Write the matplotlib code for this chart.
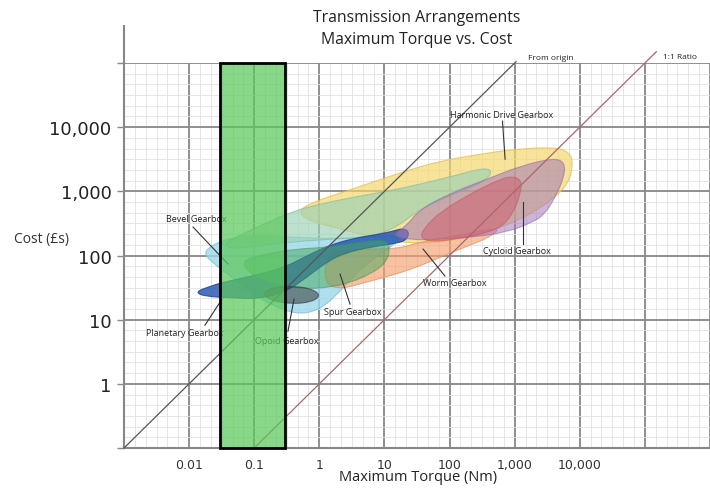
import numpy as np
import matplotlib
matplotlib.use("Agg")
import matplotlib.pyplot as plt
from matplotlib.path import Path
from matplotlib.patches import PathPatch, Rectangle
from matplotlib.ticker import FixedLocator, FixedFormatter, NullFormatter

plt.rcParams['font.family'] = ['Open Sans', 'DejaVu Sans']

# ---- axis ticks -------------------------------------------------------
x_tick_values = [1e-3, 1e-2, 1e-1, 1, 10, 100, 1e3, 1e4, 1e5, 1e6]
x_tick_labels = ['', '0.01', '0.1', '1', '10', '100', '1,000', '10,000', '', '']
y_tick_values = [1e-1, 1, 10, 100, 1e3, 1e4, 1e5]
y_tick_labels = ['', '1', '10', '100', '1,000', '10,000', '']

# ---- gearbox regions (torque in Nm, cost in GBP) ---------------------
harmonic_torque = [0.45, 0.86, 2.5, 6.7, 22, 71, 290, 950, 3900, 7100, 7900, 6600, 3900, 1900, 950, 420, 145, 35, 8.5, 2.1, 0.72]
harmonic_cost = [490, 700, 1000, 1400, 2100, 2950, 3800, 4500, 4900, 4100, 2500, 1300, 760, 470, 330, 240, 180, 150, 180, 260, 340]

bevel_torque = [0.0164, 0.032, 0.086, 0.36, 2.1, 10.2, 17.4, 14.6, 7.2, 3.5, 1.74, 0.96, 0.51, 0.25, 0.10, 0.046, 0.021]
bevel_cost = [117, 174, 208, 194, 180, 208, 194, 151, 94, 51, 22.5, 14.1, 12.2, 14.6, 24, 46, 82]

teal_torque = [0.032, 0.060, 0.12, 0.39, 1.0, 3.3, 11, 35, 113, 430, 420, 113, 35, 15.6, 6.0, 1.46, 0.36, 0.10, 0.051]
teal_cost = [145, 208, 287, 490, 630, 810, 1000, 1290, 1730, 2470, 1550, 900, 530, 277, 194, 180, 162, 140, 126]

planetary_torque = [0.0123, 0.021, 0.032, 0.086, 0.28, 0.60, 1.31, 3.3, 8.5, 14.6, 19.3, 24, 22, 15.6, 6.0, 2.5, 1.31, 0.65, 0.32, 0.12, 0.043, 0.0175]
planetary_cost = [27, 33, 38, 47, 64, 95, 140, 185, 215, 245, 265, 235, 175, 155, 135, 110, 80, 46, 28, 21, 22, 23]

worm_torque = [1.22, 1.25, 1.74, 4.2, 15.6, 35, 113, 290, 600, 420, 206, 85, 42, 21, 10.2, 4.2, 2.1]
worm_cost = [36, 82, 117, 126, 126, 162, 200, 240, 267, 194, 145, 101, 74, 57, 46, 36, 30]

spur_torque = [0.060, 0.147, 0.42, 1.46, 4.2, 11, 12.2, 10.2, 6.0, 3.0, 1.46, 0.60, 0.25, 0.10]
spur_cost = [82, 105, 126, 135, 162, 180, 117, 74, 51, 38, 32, 30, 35, 46]

cycloid_torque = [13, 21, 35, 113, 380, 1210, 3900, 5900, 5750, 4200, 2900, 1900, 760, 230, 71, 25]
cycloid_cost = [208, 277, 530, 970, 1550, 2470, 3300, 2850, 1660, 810, 440, 330, 231, 194, 180, 174]

red_torque = [35, 42, 71, 230, 600, 950, 1300, 1210, 1010, 710, 420, 130, 50]
red_cost = [194, 277, 474, 970, 1550, 1730, 1440, 900, 530, 308, 231, 180, 162]

opoid_torque = [0.136, 0.175, 0.355, 0.72, 1.06, 0.77, 0.355, 0.175]
opoid_cost = [25, 31, 33.4, 31, 24.2, 18.8, 17.5, 20.2]

# ---- highlighted torque band ----------------------------------------
band_torque = [0.03, 0.3]
band_cost = [0.1, 1e5]

# ---- reference lines -------------------------------------------------
origin_torque = [1e-3, 1.05e3]
origin_cost = [0.1, 1.05e5]
ratio_torque = [0.1, 1.5e5]
ratio_cost = [0.1, 1.5e5]

# ---- annotations -----------------------------------------------------
label_names = ['Harmonic Drive Gearbox', 'Bevel Gearbox', 'Planetary Gearbox', 'Opoid Gearbox',
               'Spur Gearbox', 'Worm Gearbox', 'Cycloid Gearbox']
label_torque = [640, 0.0128, 0.0087, 0.32, 3.3, 121, 1090]
label_cost = [15900, 383, 6.2, 4.8, 13.6, 38.5, 121]
leader_from_torque = [650, 0.0115, 0.0175, 0.33, 2.96, 85, 1345]
leader_from_cost = [12400, 277, 8.2, 6.6, 17.5, 47.8, 151]
leader_to_torque = [713, 0.0396, 0.032, 0.408, 2.08, 39.2, 1345]
leader_to_cost = [3170, 73.5, 20.9, 20.9, 51.3, 126, 679]


def blob_path(torque, cost):
    """Closed smooth outline (quadratic B-spline through edge midpoints) in log space."""
    lx = np.log10(torque)
    ly = np.log10(cost)
    mx = (lx + np.roll(lx, -1)) / 2
    my = (ly + np.roll(ly, -1)) / 2
    verts = [(mx[-1], my[-1])]
    codes = [Path.MOVETO]
    for i in range(len(lx)):
        verts += [(lx[i], ly[i]), (mx[i], my[i])]
        codes += [Path.CURVE3, Path.CURVE3]
    verts = 10 ** np.array(verts)
    return Path(verts, codes)


fig = plt.figure(figsize=(7.1, 4.89), dpi=100)
ax = fig.add_axes([124 / 710, 40 / 489, 586 / 710, 385 / 489])
ax.set_xscale('log')
ax.set_yscale('log')
ax.set_xlim(1e-3, 1e6)
ax.set_ylim(0.1, 1e5)

# ticks and grid
ax.xaxis.set_major_locator(FixedLocator(x_tick_values))
ax.xaxis.set_major_formatter(FixedFormatter(x_tick_labels))
ax.yaxis.set_major_locator(FixedLocator(y_tick_values))
ax.yaxis.set_major_formatter(FixedFormatter(y_tick_labels))
ax.xaxis.set_minor_locator(FixedLocator(10 ** np.arange(-3, 6.01, 1 / 6)))
ax.yaxis.set_minor_locator(FixedLocator(10 ** np.arange(-1, 5.01, 1 / 6)))
ax.xaxis.set_minor_formatter(NullFormatter())
ax.yaxis.set_minor_formatter(NullFormatter())
ax.grid(which='major', color='#878787', lw=1.3, zorder=0)
ax.grid(which='minor', color='#e2e2e2', lw=0.6, zorder=0)
ax.set_axisbelow(True)

ax.tick_params(axis='x', which='both', length=0, pad=7, labelsize=9, labelcolor='#333333')
ax.tick_params(axis='y', which='major', length=5, width=1, color='#878787', pad=4,
               labelsize=13, labelcolor='#222222')
ax.tick_params(axis='y', which='minor', length=0)
for lbl in ax.get_xticklabels() + ax.get_yticklabels():
    lbl.set_family('DejaVu Sans')

for side in ('top', 'right'):
    ax.spines[side].set_visible(False)
for side in ('left', 'bottom'):
    ax.spines[side].set_color('#878787')
    ax.spines[side].set_linewidth(1.5)
# left axis line continues above the grid
ax.plot([0, 0], [1, (449 - 27) / 385], transform=ax.transAxes, color='#878787',
        lw=1.5, clip_on=False, zorder=1)

# regions
regions = [
    (harmonic_torque, harmonic_cost, '#f5d76c', 0.68, '#e0bb40'),
    (bevel_torque, bevel_cost, '#9cd8ea', 0.8, '#7cc2d8'),
    (teal_torque, teal_cost, '#9ad2b4', 0.65, '#80bca0'),
    (worm_torque, worm_cost, '#f3a070', 0.65, '#e08a58'),
    (planetary_torque, planetary_cost, '#2050b0', 0.8, '#1c3f90'),
    (spur_torque, spur_cost, '#46a65c', 0.5, '#3a9050'),
    (cycloid_torque, cycloid_cost, '#a478b8', 0.55, '#9060a8'),
    (red_torque, red_cost, '#d05c6c', 0.5, '#c05060'),
    (opoid_torque, opoid_cost, '#3c4646', 0.6, '#2c3434'),
]
for k, (tq, cs, fc, al, ec) in enumerate(regions):
    patch = PathPatch(blob_path(tq, cs), facecolor=fc, alpha=al, edgecolor=ec,
                      lw=0.8, zorder=2 + k * 0.01)
    ax.add_patch(patch)

# reference lines
ax.plot(origin_torque, origin_cost, color='#555555', lw=0.9, clip_on=False, zorder=3)
ax.plot(ratio_torque, ratio_cost, color='#a8666e', lw=0.9, clip_on=False, zorder=3)
ax.text(1.6e3, 1.23e5, 'From origin', fontsize=6, ha='left', va='center', color='#222222')
ax.text(1.9e5, 1.28e5, '1:1 Ratio', fontsize=6, ha='left', va='center', color='#222222')

# labels and leader lines
for name, tx, cy, fx, fy, ex, ey in zip(label_names, label_torque, label_cost,
                                         leader_from_torque, leader_from_cost,
                                         leader_to_torque, leader_to_cost):
    ax.plot([fx, ex], [fy, ey], color='#333333', lw=0.8, zorder=3)
    ax.text(tx, cy, name, fontsize=6.5, ha='center', va='center', color='#222222', zorder=3)

# highlighted torque band
band = Rectangle((band_torque[0], band_cost[0]), band_torque[1] - band_torque[0],
                 band_cost[1] - band_cost[0], facecolor='#5cc85c', alpha=0.72,
                 edgecolor='none', zorder=4, clip_on=False)
ax.add_patch(band)
band_edge = Rectangle((band_torque[0], band_cost[0]), band_torque[1] - band_torque[0],
                      band_cost[1] - band_cost[0], facecolor='none', edgecolor='black',
                      lw=2, zorder=5, clip_on=False)
ax.add_patch(band_edge)

ax.set_xlabel('Maximum Torque (Nm)', fontsize=10.5, color='#222222', va='center')
ax.xaxis.set_label_coords(0.502, -0.075)
ax.set_ylabel('Cost (£s)', fontsize=10, rotation=0, ha='center', va='center', color='#333333')
ax.yaxis.set_label_coords(-0.1416, 0.545)

fig.text(417 / 710, 1 - 18 / 489, 'Transmission Arrangements', ha='center', va='center',
         fontsize=11.3, color='#222222')
fig.text(417 / 710, 1 - 40 / 489, 'Maximum Torque vs. Cost', ha='center', va='center',
         fontsize=11.3, color='#222222')

fig.savefig('out.png', dpi=100)
